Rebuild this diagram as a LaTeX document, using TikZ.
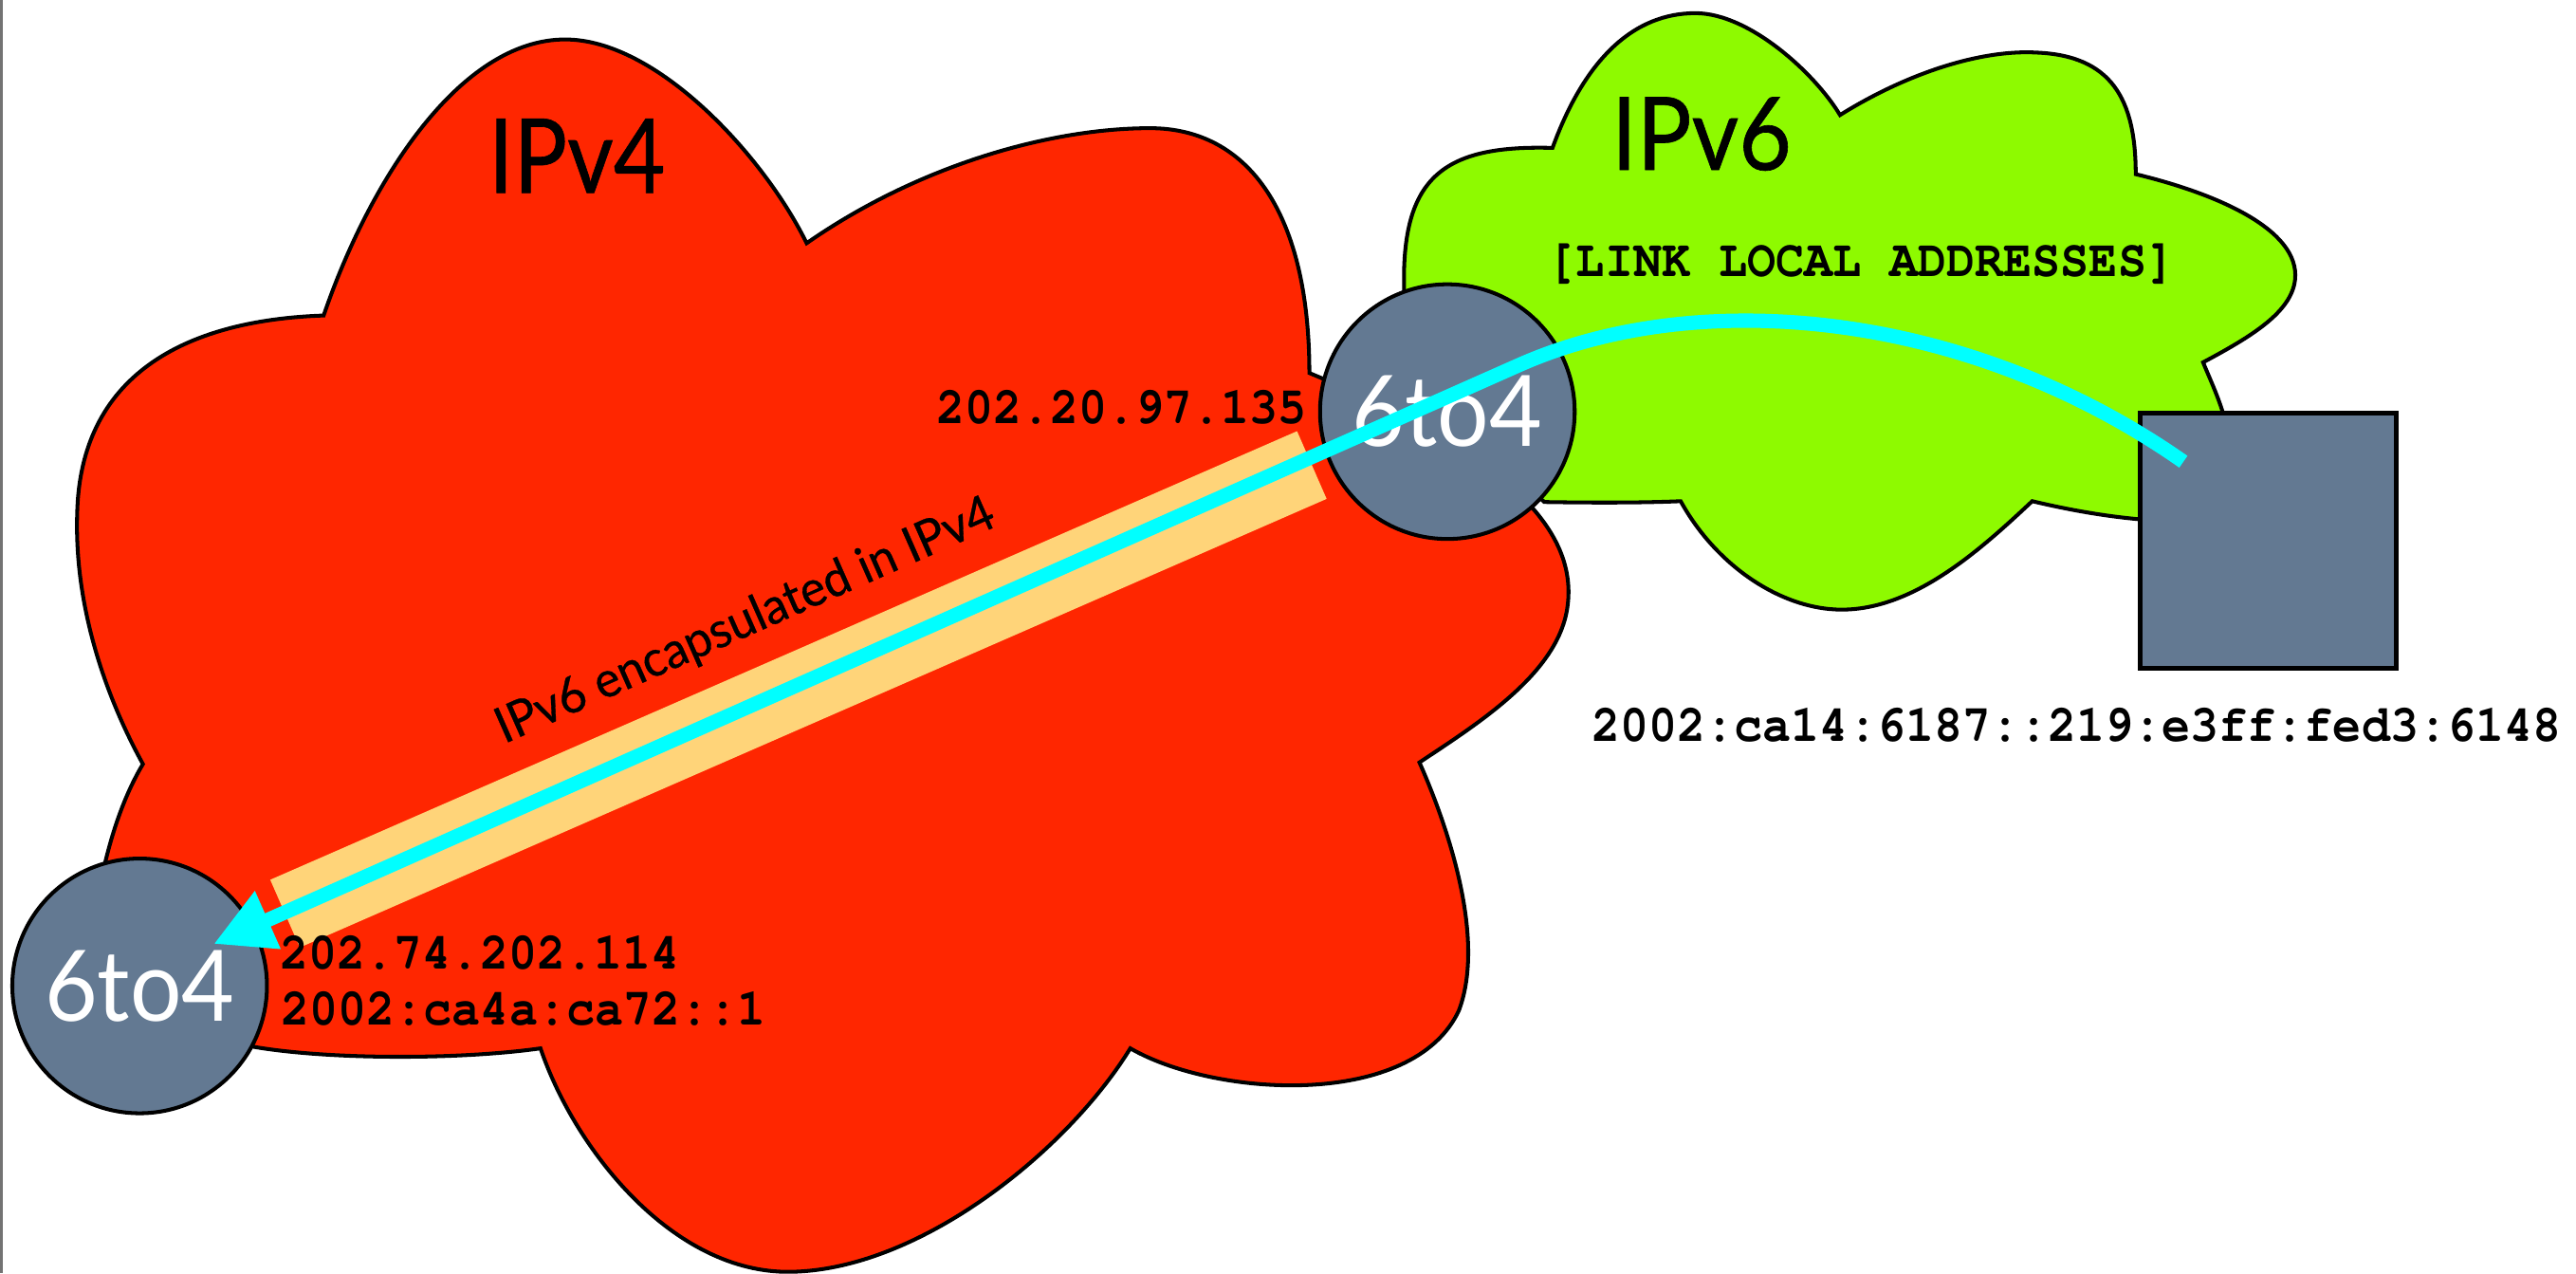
\documentclass[tikz,border=0pt]{standalone}
\usepackage[T1]{fontenc}
\usepackage{fontspec}
\usepackage{graphicx}
\setmainfont{Lato}
\newfontfamily\labelfont{Lato}[FakeBold=0.6]
\usetikzlibrary{arrows.meta,calc}

% one drawing unit
\newdimen\unitpx \unitpx=0.017321cm

\definecolor{ipvfourred}{RGB}{255,38,0}
\definecolor{ipvsixgreen}{RGB}{142,250,0}
\definecolor{tunneltan}{RGB}{255,212,121}
\definecolor{slate}{RGB}{99,121,146}
\definecolor{pathcyan}{RGB}{0,255,255}

% bold Courier for addresses, set a little taller than its width
\newcommand{\addrfont}{\fontencoding{T1}\fontfamily{pcr}\fontseries{b}\fontshape{n}\fontsize{14.25pt}{17pt}\selectfont}
\newcommand{\addrtext}[1]{\scalebox{1}[1.1]{#1}}

\begin{document}
\begin{tikzpicture}[x=0.017321cm, y=-0.017321cm,
  cloudedge/.style={draw=black, line width=1.15pt, line join=miter},
  gateway/.style={circle, draw=black, line width=1.15pt, fill=slate,
    minimum size=155\unitpx, inner sep=0pt, text=white},
  hostbox/.style={rectangle, draw=black, line width=1.4pt, fill=slate,
    minimum width=156\unitpx, minimum height=155.5\unitpx, inner sep=0pt},
  addr/.style={inner sep=0pt, anchor=base, font=\addrfont},
  netname/.style={inner sep=0pt, anchor=base west, font=\labelfont},
  flow/.style={draw=pathcyan, line width=4.3pt,
    -{Triangle[length=17.8pt,width=17.8pt]}},
]
\useasboundingbox (0,0) rectangle (1568,775);

% frame edge on the left
\draw[draw=black!55, line width=0.75pt] (0.75,0) -- (0.75,775);

% IPv4 cloud
\path[cloudedge, fill=ipvfourred]
  (197,192) .. controls (225,110) and (280,24) .. (344,24)
  .. controls (400,24) and (465,95) .. (491,148)
  .. controls (560,100) and (640,78) .. (700,78)
  .. controls (760,78) and (797,130) .. (797,227)
  -- (840,245)
  .. controls (930,290) and (960,330) .. (954,370)
  .. controls (948,410) and (900,440) .. (864,464)
  .. controls (880,500) and (905,570) .. (888,615)
  .. controls (860,675) and (740,668) .. (688,638)
  .. controls (650,700) and (560,773) .. (481,774)
  .. controls (410,775) and (350,700) .. (329,638)
  .. controls (280,645) and (200,645) .. (154,637)
  .. controls (100,640) and (50,600) .. (64,525)
  .. controls (70,500) and (78,480) .. (87,465)
  .. controls (65,425) and (45,370) .. (47,312)
  .. controls (49,230) and (110,195) .. (197,192) -- cycle;

% IPv6 cloud
\path[cloudedge, fill=ipvsixgreen]
  (945,90) .. controls (965,35) and (995,8) .. (1032,8)
  .. controls (1065,8) and (1105,45) .. (1120,70)
  .. controls (1160,45) and (1205,30) .. (1240,32)
  .. controls (1285,34) and (1300,60) .. (1300,106)
  .. controls (1350,118) and (1400,140) .. (1397,170)
  .. controls (1395,190) and (1370,205) .. (1341,220.5)
  .. controls (1347,235) and (1352,245) .. (1356,262)
  -- (1340,318) -- (1302,316)
  .. controls (1280,314) and (1258,310) .. (1237,305)
  .. controls (1205,335) and (1165,371) .. (1121,371)
  .. controls (1085,371) and (1045,345) .. (1023,305)
  .. controls (1000,306) and (970,306) .. (940,305.5)
  -- (880,250) -- (855,185)
  .. controls (851,110) and (875,88) .. (945,90) -- cycle;

% tunnel band
\fill[tunneltan] (789.5,262.4) -- (807.5,303.6) -- (182.5,576.6) -- (164.5,535.4) -- cycle;

% network names
\node[netname] (v4label) at (297,117.4) {\resizebox{53pt}{22.27pt}{IPv4}};
\node[netname] (v6label) at (980.5,103.4) {\resizebox{54pt}{21.8pt}{IPv6}};
\node[netname, rotate=23.85] (tunnellabel) at (306.6,452.9)
  {\resizebox{162pt}{11pt}{IPv6 encapsulated in IPv4}};

% addresses
\node[addr] (v4addrR) at (682.75,257.9) {\addrtext{202.20.97.135}};
\node[addr] (v4addrL) at (292.15,589.8) {\addrtext{202.74.202.114}};
\node[addr] (v6addrL) at (318.7,623.5) {\addrtext{2002:ca4a:ca72::1}};
\node[addr] (linklocal) at (1133,168.4) {\addrtext{[LINK LOCAL ADDRESSES]}};
\node[addr] (hostaddr) at (1264,451.2) {\addrtext{2002:ca14:6187::219:e3ff:fed3:6148}};

% relays and host
\node[gateway] (gwL) at (85,600) {\resizebox{57pt}{21.2pt}{6to4}};
\node[gateway] (gwR) at (881,250.5) {\resizebox{57pt}{21.2pt}{6to4}};
\node[hostbox] (host) at (1380.5,329) {};

% packet path from the host to the far relay
\coordinate (flowstart) at ($(host.center)+(-51.5,-48)$);
\coordinate (flowbend) at (925,222);
\coordinate (flowend) at ($(gwL.center)+(45,-25.5)$);
\draw[flow] (flowstart) .. controls (1198,189.2) and (1034.8,173.5) .. (flowbend) -- (flowend);
\end{tikzpicture}
\end{document}
